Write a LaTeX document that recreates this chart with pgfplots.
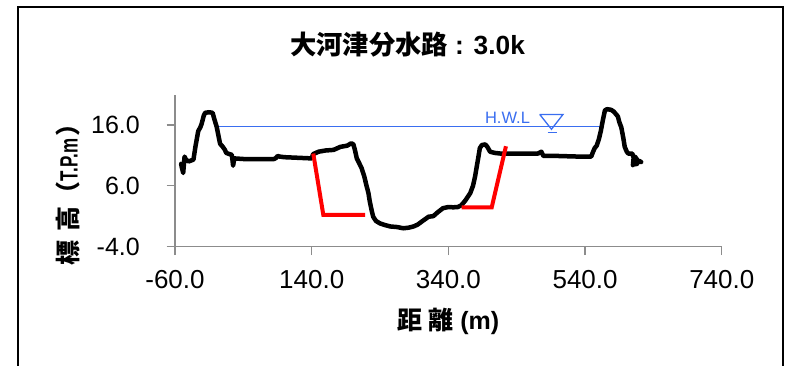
\documentclass[border=0pt]{standalone}
\usepackage{fontspec}
\setmainfont{Liberation Sans}
\newfontfamily\cjk{Noto Sans CJK JP}
\usepackage{pgfplots}
\pgfplotsset{compat=1.18}
\definecolor{hwl}{HTML}{3A6EF0}
\definecolor{axgray}{HTML}{8C8C8C}
\begin{document}
\begin{tikzpicture}[x=1pt,y=1pt]
\clip (0,0) rectangle (789,365);
\draw[line width=1.3pt] (18,-10) rectangle (783,358);
\begin{axis}[at={(175pt,118.5pt)}, anchor=south west, scale only axis,
  width=546.8pt, height=151.9pt,
  xmin=-60, xmax=740, ymin=-4, ymax=21,
  axis lines=left, axis line style={-, draw=axgray, line width=1.3pt},
  xtick={-60,140,340,540,740}, ytick={-4,6,16},
  tick align=outside, major tick length=8.5pt,
  tick style={draw=axgray, line width=1.3pt},
  /pgf/number format/.cd, fixed, fixed zerofill, precision=1, assume math mode=true,
  /pgfplots/.cd,
  xticklabel style={anchor=north, inner sep=0pt, yshift=-15pt, font=\fontsize{26}{31}\selectfont},
  yticklabel style={anchor=east, inner sep=0pt, xshift=-26.5pt, font=\fontsize{25}{30}\selectfont},
  clip=false]
\addplot[hwl, line width=1.3pt] coordinates {(2,15.72) (566,15.72)};
\addplot[black, line width=4.5pt, line join=round, line cap=round] coordinates {
(-51,9.6) (-50,9.0) (-48,8.1) (-47,9.5) (-46,10.8) (-44,10.3) (-40,10.0) (-33,10.3)
(-30,12.5) (-26,15.0) (-23,15.6) (-21,16.2) (-18,17.5) (-16,18.0) (-10,18.1) (-5,18.0)
(-2,16.8) (1,15.7) (4,14.0) (6,12.9) (10,12.4) (13,11.9) (15,11.4) (20,11.2) (23,11.1)
(24,10.3) (25,9.3) (26,10.0) (27,10.5) (40,10.4) (60,10.4) (85,10.4) (88,10.6) (90,10.9)
(93,10.8) (100,10.7) (120,10.6) (140,10.5) (142,11.2) (150,11.6) (160,11.8) (172,11.9)
(182,12.4) (192,12.6) (198,13.0) (201,12.8) (203,12.0) (206,10.5) (210,9.6) (213,8.9)
(217,7.5) (220,6.1) (223,4.8) (225,3.4) (228,1.8) (230,0.9) (234,0.2) (240,-0.2)
(248,-0.5) (255,-0.7) (265,-0.8) (274,-1.0) (282,-0.9) (289,-0.7) (295,-0.4) (301,0.1)
(306,0.5) (311,0.9) (318,1.0) (324,1.6) (332,2.3) (340,2.5) (347,2.45) (354,2.5)
(359,2.8) (365,3.6) (372,4.8) (376,6.0) (379,7.5) (382,9.5) (384,10.8) (386,12.2)
(389,12.7) (394,12.8) (397,12.4) (401,11.6) (408,11.4) (416,11.3) (440,11.3) (471,11.3)
(476,11.6) (479,10.9) (500,10.9) (530,10.8) (549,10.8) (551,11.4) (554,12.2) (557,12.6)
(560,13.6) (563,15.0) (566,16.8) (569,18.4) (572,18.6) (578,18.5) (582,18.2) (588,17.4)
(590,16.5) (593,15.6) (596,13.8) (598,12.4) (601,11.6) (603,11.3) (609,11.3) (611,10.6)
(610,9.4) (613,10.8) (616,10.3) (615,9.5) (619,10.1) (622,9.9)};
\addplot[red, line width=4pt] coordinates {(142.3,11.3) (157,1.2) (218,1.2)};
\addplot[red, line width=4pt] coordinates {(359.5,2.45) (403.4,2.45) (424.2,12.5)};
\addplot[hwl, line width=1.3pt] coordinates {(473.6,17.74) (507.7,17.74) (490.8,15.3) (473.6,17.74)};
\addplot[hwl, line width=1.3pt] coordinates {(485.3,14.73) (498.5,14.73)};
\node[text=hwl, font=\fontsize{16.5}{19}\selectfont] at (axis cs:426.5,17.2) {H.W.L};
\end{axis}
\node[font=\fontsize{26.3}{31}\selectfont\bfseries] at (407.5,320) {{\cjk 大河津分水路} : 3.0k};
\node[font=\fontsize{25}{30}\selectfont\bfseries] at (448.5,44) {{\cjk 距 離} (m)};
\node[font=\fontsize{25}{30}\selectfont\bfseries, rotate=90] at (68,176.5) {{\cjk 標\hspace{9pt}高（}\scalebox{0.68}[1]{T.P.m}\hspace{2pt}{\cjk ）}};
\end{tikzpicture}
\end{document}
